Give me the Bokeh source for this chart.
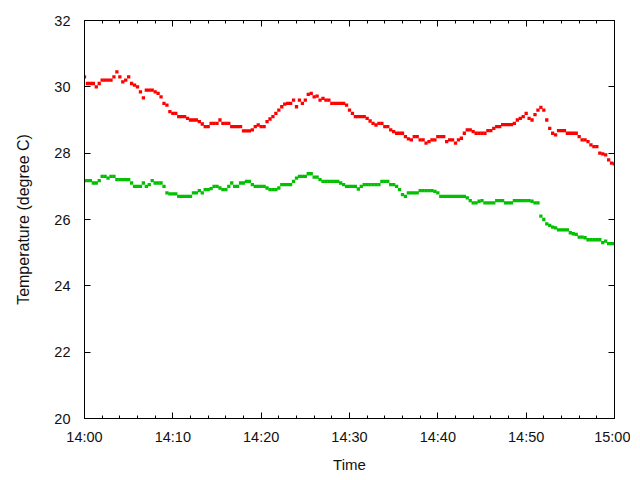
import pandas as pd
from bokeh.plotting import figure
from bokeh.models import (Range1d, FixedTicker, DatetimeTickFormatter, LinearAxis,
                          DatetimeAxis, ColumnDataSource, CustomJSTickFormatter)
from bokeh.embed import file_html
from bokeh.resources import INLINE

# --- data (one reading every 20 seconds from 14:00 to 15:00) ---
start_time = "2024-01-01 14:00:00"
sample_step = "20s"

red_temp = [
    30.3, 30.1, 30.1, 30.1, 30.0, 30.1, 30.2, 30.2, 30.2, 30.2,
    30.3, 30.45, 30.3, 30.15, 30.2, 30.3, 30.1, 30.05, 30.0, 29.85,
    29.67, 29.9, 29.9, 29.9, 29.85, 29.8, 29.7, 29.5, 29.45, 29.25,
    29.2, 29.2, 29.1, 29.1, 29.1, 29.05, 29.0, 29.0, 29.0, 28.95,
    28.88, 28.8, 28.8, 28.9, 28.9, 28.9, 29.0, 28.9, 28.9, 28.9,
    28.8, 28.8, 28.8, 28.8, 28.67, 28.67, 28.67, 28.7, 28.8, 28.85,
    28.8, 28.8, 28.95, 29.03, 29.1, 29.2, 29.3, 29.4, 29.48, 29.5,
    29.5, 29.6, 29.4, 29.6, 29.5, 29.6, 29.77, 29.8, 29.7, 29.72,
    29.6, 29.65, 29.6, 29.6, 29.5, 29.5, 29.5, 29.5, 29.5, 29.45,
    29.3, 29.2, 29.1, 29.1, 29.1, 29.1, 29.05, 28.97, 28.9, 28.85,
    28.9, 28.9, 28.8, 28.8, 28.7, 28.65, 28.6, 28.6, 28.6, 28.5,
    28.43, 28.4, 28.5, 28.5, 28.4, 28.4, 28.3, 28.35, 28.4, 28.4,
    28.5, 28.5, 28.5, 28.35, 28.4, 28.4, 28.3, 28.4, 28.45, 28.6,
    28.7, 28.7, 28.65, 28.6, 28.6, 28.6, 28.6, 28.68, 28.68, 28.75,
    28.8, 28.8, 28.86, 28.86, 28.86, 28.86, 28.9, 29.0, 29.05, 29.1,
    29.2, 29.05, 29.0, 29.16, 29.3, 29.38, 29.3, 29.0, 28.75, 28.6,
    28.55, 28.68, 28.68, 28.68, 28.6, 28.6, 28.6, 28.6, 28.5, 28.4,
    28.4, 28.35, 28.25, 28.2, 28.2, 28.0, 27.98, 27.95, 27.8, 27.7,
    27.68,
]

green_temp = [
    27.17, 27.17, 27.17, 27.1, 27.1, 27.17, 27.3, 27.3, 27.25, 27.3,
    27.3, 27.2, 27.2, 27.2, 27.2, 27.2, 27.1, 27.0, 27.0, 27.0,
    27.1, 27.0, 27.05, 27.17, 27.1, 27.1, 27.1, 27.0, 26.8, 26.77,
    26.77, 26.77, 26.7, 26.7, 26.7, 26.7, 26.7, 26.8, 26.8, 26.87,
    26.8, 26.9, 26.9, 26.93, 27.0, 27.0, 26.95, 26.9, 26.9, 27.0,
    27.1, 27.0, 27.0, 27.1, 27.1, 27.15, 27.15, 27.05, 27.0, 27.0,
    27.0, 27.0, 26.95, 26.9, 26.9, 26.9, 26.95, 27.05, 27.05, 27.05,
    27.05, 27.15, 27.25, 27.3, 27.3, 27.3, 27.38, 27.38, 27.28, 27.28,
    27.2, 27.15, 27.15, 27.15, 27.15, 27.15, 27.15, 27.1, 27.05, 27.0,
    27.0, 27.0, 27.0, 26.92, 27.0, 27.05, 27.05, 27.05, 27.05, 27.05,
    27.05, 27.15, 27.15, 27.15, 27.05, 27.05, 27.0, 26.9, 26.75, 26.7,
    26.8, 26.8, 26.8, 26.8, 26.87, 26.87, 26.87, 26.87, 26.87, 26.85,
    26.8, 26.7, 26.7, 26.7, 26.7, 26.7, 26.7, 26.7, 26.7, 26.7,
    26.65, 26.57, 26.5, 26.5, 26.55, 26.57, 26.5, 26.5, 26.5, 26.5,
    26.57, 26.57, 26.57, 26.5, 26.5, 26.5, 26.57, 26.57, 26.57, 26.57,
    26.57, 26.57, 26.55, 26.5, 26.5, 26.1, 26.0, 25.87, 25.82, 25.77,
    25.75, 25.69, 25.69, 25.69, 25.69, 25.6, 25.57, 25.55, 25.47, 25.47,
    25.45, 25.39, 25.39, 25.39, 25.39, 25.39, 25.3, 25.35, 25.27, 25.27,
    25.27,
]

x_tick_labels = ["14:00", "14:10", "14:20", "14:30", "14:40", "14:50", "15:00"]
x_minor_minutes = [2, 4, 6, 8]
y_ticks = [20, 22, 24, 26, 28, 30, 32]
y_limits = (20, 32)

# --- build ---
times = pd.date_range(start_time, periods=len(red_temp), freq=sample_step)
src = ColumnDataSource(dict(t=times, red=red_temp, green=green_temp))

day = start_time.split(" ")[0]
major_ts = [pd.Timestamp(f"{day} {lbl}:00") for lbl in x_tick_labels]
major_ms = [ts.value / 1e6 for ts in major_ts]
minor_ms = []
for ts in major_ts[:-1]:
    for m in x_minor_minutes:
        minor_ms.append((ts + pd.Timedelta(minutes=m)).value / 1e6)

p = figure(frame_width=530, frame_height=398, output_backend="svg",
           toolbar_location=None, x_axis_type="datetime",
           x_range=Range1d(major_ms[0], major_ms[-1]),
           y_range=Range1d(*y_limits),
           min_border_left=84, min_border_top=20, min_border_right=16,
           min_border_bottom=54)
p.background_fill_color = "white"
p.border_fill_color = "white"
p.outline_line_color = "black"
p.outline_line_width = 1
p.grid.visible = False

fmt = DatetimeTickFormatter(minutes="%H:%M", hourmin="%H:%M", hours="%H:%M",
                            seconds="%H:%M", minsec="%H:%M")
xt = FixedTicker(ticks=major_ms, minor_ticks=minor_ms)
yt = FixedTicker(ticks=y_ticks, minor_ticks=[])

font = "Liberation Sans"

xa = p.xaxis[0]
xa.ticker = xt
xa.formatter = fmt
xa.axis_label = "Time"
ya = p.yaxis[0]
ya.ticker = yt
ya.axis_label = "Temperature (degree C)"

for ax in (xa, ya):
    ax.axis_line_color = "black"
    ax.major_tick_in = 6
    ax.major_tick_out = 0
    ax.minor_tick_in = 3
    ax.minor_tick_out = 0
    ax.major_tick_line_color = "black"
    ax.minor_tick_line_color = "black"
    ax.major_label_text_font = font
    ax.major_label_text_font_size = "14.5px"
    ax.major_label_text_color = "#111111"
    ax.axis_label_text_font = font
    ax.axis_label_text_font_style = "normal"
    ax.axis_label_text_color = "#111111"
xa.axis_label_text_font_size = "15px"
ya.axis_label_text_font_size = "16px"
xa.major_label_standoff = 10
xa.axis_label_standoff = 8
ya.major_label_standoff = 14
ya.axis_label_standoff = 19

blank = CustomJSTickFormatter(code="return '';")
top = DatetimeAxis(ticker=xt, formatter=blank)
right = LinearAxis(ticker=yt, formatter=blank)
for ax in (top, right):
    ax.axis_line_color = "black"
    ax.major_tick_in = 6
    ax.major_tick_out = 0
    ax.minor_tick_in = 3
    ax.minor_tick_out = 0
    ax.major_label_standoff = 0
p.add_layout(top, "above")
p.add_layout(right, "right")

p.scatter("t", "red", source=src, marker="square", size=3.3,
          fill_color="#ff0000", line_color=None)
p.scatter("t", "green", source=src, marker="square", size=3.3,
          fill_color="#00c000", line_color=None)

open("out.html", "w").write(file_html(p, INLINE))
